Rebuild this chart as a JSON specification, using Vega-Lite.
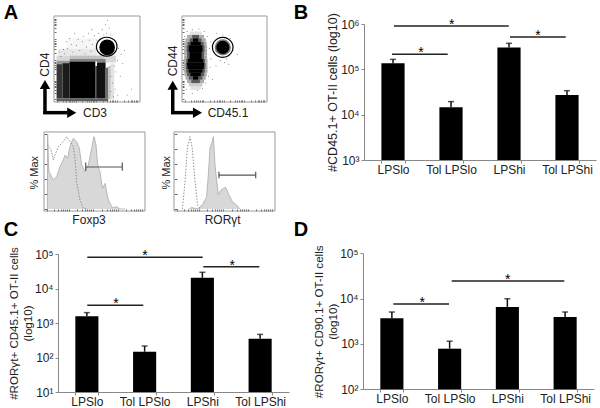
{"$schema":"https://vega.github.io/schema/vega-lite/v6.json","width":600,"height":408,"autosize":"none","padding":0,"background":"white",
"config":{"view":{"stroke":null},"font":"Liberation Sans","axis":{"grid":false,"domainColor":"#888","tickColor":"#888","tickSize":3,"labelColor":"#222","titleColor":"#222","labelFontSize":12,"titleFontSize":12,"titleFontWeight":"normal","labelFont":"Liberation Sans","titleFont":"Liberation Sans"},"text":{"font":"Liberation Sans"}},
"resolve":{"scale":{"x":"independent","y":"independent"}},
"layer":[
{"encoding":{"x":{"field":"x","type":"quantitative","axis":null,"scale":{"domain":[0,100],"range":[54,140],"nice":false,"zero":false}},"y":{"field":"y","type":"quantitative","axis":null,"scale":{"domain":[0,100],"range":[102,16],"nice":false,"zero":false}}},
"layer":[
{"data":{"values":[{"x":15,"x2":50,"y":62,"y2":74,"d":3},{"x":5,"x2":50,"y":54,"y2":62,"d":8},{"x":3,"x2":18,"y":48,"y2":54,"d":14},{"x":18,"x2":58,"y":50,"y2":54,"d":22},{"x":58,"x2":72,"y":46,"y2":54,"d":14},{"x":3,"x2":18,"y":44,"y2":48,"d":38},{"x":18,"x2":50,"y":47,"y2":50,"d":45},{"x":50,"x2":60,"y":46,"y2":50,"d":45},{"x":3,"x2":10,"y":4,"y2":44,"d":78},{"x":10,"x2":18,"y":4,"y2":45,"d":90},{"x":18,"x2":48,"y":4,"y2":47,"d":100},{"x":48,"x2":50,"y":4,"y2":42,"d":75},{"x":50,"x2":60,"y":4,"y2":46,"d":95},{"x":60,"x2":63,"y":4,"y2":40,"d":55},{"x":63,"x2":66,"y":3,"y2":42,"d":22},{"x":66,"x2":70,"y":3,"y2":45,"d":10},{"x":3,"x2":63,"y":1,"y2":4,"d":60}]},
"mark":{"type":"rect"},"encoding":{"x2":{"field":"x2"},"y2":{"field":"y2"},"color":{"field":"d","type":"quantitative","legend":null,"scale":{"domain":[0,100],"range":["#ffffff","#000000"]}}}},
{"data":{"values":[{"x":12,"y":56},{"x":16,"y":62},{"x":22,"y":58},{"x":26,"y":66},{"x":30,"y":60},{"x":33,"y":70},{"x":36,"y":56},{"x":38,"y":64},{"x":41,"y":72},{"x":43,"y":59},{"x":45,"y":67},{"x":47,"y":77},{"x":49,"y":62},{"x":34,"y":76},{"x":28,"y":73},{"x":20,"y":67},{"x":8,"y":53},{"x":11,"y":61},{"x":6,"y":58},{"x":52,"y":80},{"x":56,"y":84},{"x":60,"y":90},{"x":62,"y":95},{"x":61,"y":80},{"x":64,"y":86},{"x":58,"y":78},{"x":66,"y":78},{"x":72,"y":72},{"x":75,"y":62},{"x":78,"y":55},{"x":74,"y":48},{"x":70,"y":42},{"x":72,"y":35},{"x":66,"y":30},{"x":68,"y":22},{"x":71,"y":15},{"x":66,"y":12},{"x":74,"y":8},{"x":69,"y":6},{"x":77,"y":30},{"x":80,"y":45},{"x":18,"y":74},{"x":40,"y":80},{"x":44,"y":84},{"x":50,"y":72},{"x":24,"y":80},{"x":14,"y":70},{"x":82,"y":60},{"x":90,"y":15},{"x":85,"y":8}]},
"mark":{"type":"circle","size":0.7,"color":"#000","opacity":1}},
{"data":{"values":[{"x":61.8,"y":63.5}]},"mark":{"type":"circle","size":245,"color":"#000","opacity":1}},
{"data":{"values":[{"o":1,"x":73.3,"y":64.3},{"o":2,"x":71.7,"y":70},{"o":3,"x":67.3,"y":73.8},{"o":4,"x":61.3,"y":75.3},{"o":5,"x":55.3,"y":73.8},{"o":6,"x":50.9,"y":69.8},{"o":7,"x":49.3,"y":64.3},{"o":8,"x":50.9,"y":58.8},{"o":9,"x":55.3,"y":54.8},{"o":10,"x":61.3,"y":53.3},{"o":11,"x":67.3,"y":54.8},{"o":12,"x":71.7,"y":58.8}]},
"mark":{"type":"line","interpolate":"cardinal-closed","color":"#000","strokeWidth":1.2},"encoding":{"order":{"field":"o","type":"quantitative"}}},
{"data":{"values":[{"x":-10.5,"x2":-10.5,"y":-14,"y2":16},{"x":-12.5,"x2":16,"y":-12.4,"y2":-12.4}]},"mark":{"type":"rule","color":"#000","strokeWidth":3.5},"encoding":{"x2":{"field":"x2"},"y2":{"field":"y2"}}},
{"data":{"values":[{"x":-10.5,"y":20.3}]},"mark":{"type":"point","shape":"triangle-up","filled":true,"size":110,"color":"#000","opacity":1}},
{"data":{"values":[{"x":20.6,"y":-12.4}]},"mark":{"type":"point","shape":"triangle-right","filled":true,"size":110,"color":"#000","opacity":1}},
{"data":{"values":[{"x":47.7,"y":-13.1,"s":"CD3"}]},"mark":{"type":"text","fontSize":12,"color":"#222"},"encoding":{"text":{"field":"s"}}},
{"data":{"values":[{"x":-10.5,"y":43.4,"s":"CD4"}]},"mark":{"type":"text","fontSize":12,"color":"#222","angle":270},"encoding":{"text":{"field":"s"}}},
{"data":{"values":[{"x":-50,"y":103,"s":"A"}]},"mark":{"type":"text","fontSize":20,"fontWeight":"bold","color":"#000"},"encoding":{"text":{"field":"s"}}}
]},
{"data":{"values":[{"a":0,"b":100,"c":0,"d":100}]},"mark":{"type":"rect","fill":null,"stroke":"#999","strokeWidth":1},
"encoding":{"x":{"field":"a","type":"quantitative","title":null,"scale":{"domain":[0,100],"range":[54,140],"nice":false,"zero":false},"axis":{"orient":"bottom","offset":-306,"domain":false,"labels":false,"tickSize":-2,"tickColor":"#666","values":[3,10,14,17,19,21,23,25,33,38,41,43,45,47,49,57,62,65,67,69,71,73,81,86,89,91,93,95,97]}},"x2":{"field":"b"},"y":{"field":"c","type":"quantitative","title":null,"scale":{"domain":[0,100],"range":[102,16],"nice":false,"zero":false},"axis":{"orient":"left","offset":-54,"domain":false,"labels":false,"tickSize":-2,"tickColor":"#666","values":[3,10,14,17,19,21,23,25,33,38,41,43,45,47,49,57,62,65,67,69,71,73,81,86,89,91,93,95,97]}},"y2":{"field":"d"}}},
{"encoding":{"x":{"field":"x","type":"quantitative","axis":null,"scale":{"domain":[0,100],"range":[182,267],"nice":false,"zero":false}},"y":{"field":"y","type":"quantitative","axis":null,"scale":{"domain":[0,100],"range":[102,16],"nice":false,"zero":false}}},
"layer":[
{"data":{"values":[{"x":10,"x2":22,"y":14,"y2":18,"d":10},{"x":8,"x2":24,"y":18,"y2":22,"d":18},{"x":6,"x2":26,"y":22,"y2":26,"d":30},{"x":4,"x2":28,"y":26,"y2":30,"d":30},{"x":3,"x2":29,"y":30,"y2":34,"d":30},{"x":2,"x2":30,"y":34,"y2":38,"d":30},{"x":2,"x2":30,"y":38,"y2":42,"d":30},{"x":2,"x2":30,"y":42,"y2":46,"d":30},{"x":2,"x2":30,"y":46,"y2":50,"d":30},{"x":2.5,"x2":29.5,"y":50,"y2":54,"d":30},{"x":2.5,"x2":29.5,"y":54,"y2":58,"d":30},{"x":2.5,"x2":29.5,"y":58,"y2":62,"d":30},{"x":2.5,"x2":29.5,"y":62,"y2":66,"d":30},{"x":3,"x2":29,"y":66,"y2":70,"d":30},{"x":4,"x2":28,"y":70,"y2":74,"d":30},{"x":6,"x2":26,"y":74,"y2":78,"d":30},{"x":9,"x2":23,"y":78,"y2":82,"d":10},{"x":11,"x2":21,"y":22,"y2":26,"d":62},{"x":8,"x2":24,"y":26,"y2":30,"d":62},{"x":6,"x2":26,"y":30,"y2":34,"d":62},{"x":5,"x2":27,"y":34,"y2":38,"d":62},{"x":4.5,"x2":27.5,"y":38,"y2":46,"d":62},{"x":5,"x2":27,"y":46,"y2":50,"d":62},{"x":6,"x2":26,"y":50,"y2":58,"d":62},{"x":5.5,"x2":26.5,"y":58,"y2":66,"d":62},{"x":6.5,"x2":25.5,"y":66,"y2":70,"d":62},{"x":9,"x2":23,"y":70,"y2":74,"d":62},{"x":12,"x2":20,"y":74,"y2":78,"d":62},{"x":13,"x2":19,"y":26,"y2":30,"d":100},{"x":10,"x2":22,"y":30,"y2":34,"d":100},{"x":8,"x2":24,"y":34,"y2":38,"d":100},{"x":6.5,"x2":25.5,"y":38,"y2":42,"d":100},{"x":6,"x2":26,"y":42,"y2":46,"d":100},{"x":7,"x2":25,"y":46,"y2":50,"d":100},{"x":9,"x2":23,"y":50,"y2":58,"d":100},{"x":8,"x2":24,"y":58,"y2":66,"d":100},{"x":10,"x2":22,"y":66,"y2":70,"d":100},{"x":13,"x2":19,"y":70,"y2":74,"d":100}]},
"mark":{"type":"rect"},"encoding":{"x2":{"field":"x2"},"y2":{"field":"y2"},"color":{"field":"d","type":"quantitative","legend":null,"scale":{"domain":[0,100],"range":["#ffffff","#000000"]}}}},
{"data":{"values":[{"x":5,"y":15},{"x":12,"y":10},{"x":18,"y":13},{"x":24,"y":16},{"x":28,"y":22},{"x":31,"y":30},{"x":33,"y":40},{"x":34,"y":50},{"x":32,"y":62},{"x":34,"y":70},{"x":30,"y":76},{"x":26,"y":82},{"x":20,"y":85},{"x":12,"y":84},{"x":6,"y":82},{"x":3,"y":76},{"x":38,"y":58},{"x":40,"y":42},{"x":36,"y":26},{"x":42,"y":70},{"x":52,"y":50},{"x":50,"y":46},{"x":45,"y":48},{"x":60,"y":60},{"x":57,"y":74},{"x":48,"y":78},{"x":41,"y":80},{"x":55,"y":44},{"x":65,"y":55}]},
"mark":{"type":"circle","size":0.7,"color":"#000","opacity":1}},
{"data":{"values":[{"x":48,"y":63.5}]},"mark":{"type":"circle","size":260,"color":"#777","opacity":1}},
{"data":{"values":[{"x":48,"y":63.5}]},"mark":{"type":"circle","size":170,"color":"#000","opacity":1}},
{"data":{"values":[{"o":1,"x":60,"y":63.6},{"o":2,"x":58.4,"y":69.4},{"o":3,"x":54,"y":73.6},{"o":4,"x":47.9,"y":75.2},{"o":5,"x":41.8,"y":73.6},{"o":6,"x":37.4,"y":69.4},{"o":7,"x":35.8,"y":63.6},{"o":8,"x":37.4,"y":57.8},{"o":9,"x":41.8,"y":53.6},{"o":10,"x":47.9,"y":52},{"o":11,"x":54,"y":53.6},{"o":12,"x":58.4,"y":57.8}]},
"mark":{"type":"line","interpolate":"cardinal-closed","color":"#000","strokeWidth":1.2},"encoding":{"order":{"field":"o","type":"quantitative"}}},
{"data":{"values":[{"x":-10.9,"x2":-10.9,"y":-14,"y2":15},{"x":-12.9,"x2":14,"y":-12.4,"y2":-12.4}]},"mark":{"type":"rule","color":"#000","strokeWidth":3.5},"encoding":{"x2":{"field":"x2"},"y2":{"field":"y2"}}},
{"data":{"values":[{"x":-10.9,"y":19.4}]},"mark":{"type":"point","shape":"triangle-up","filled":true,"size":110,"color":"#000","opacity":1}},
{"data":{"values":[{"x":18.2,"y":-12.4}]},"mark":{"type":"point","shape":"triangle-right","filled":true,"size":110,"color":"#000","opacity":1}},
{"data":{"values":[{"x":54.1,"y":-12.8,"s":"CD45.1"}]},"mark":{"type":"text","fontSize":12,"color":"#222"},"encoding":{"text":{"field":"s"}}},
{"data":{"values":[{"x":-10.2,"y":47.7,"s":"CD44"}]},"mark":{"type":"text","fontSize":12,"color":"#222","angle":270},"encoding":{"text":{"field":"s"}}}
]},
{"data":{"values":[{"a":0,"b":100,"c":0,"d":100}]},"mark":{"type":"rect","fill":null,"stroke":"#999","strokeWidth":1},
"encoding":{"x":{"field":"a","type":"quantitative","title":null,"scale":{"domain":[0,100],"range":[182,267],"nice":false,"zero":false},"axis":{"orient":"bottom","offset":-306,"domain":false,"labels":false,"tickSize":-2,"tickColor":"#666","values":[3,10,14,17,19,21,23,25,33,38,41,43,45,47,49,57,62,65,67,69,71,73,81,86,89,91,93,95,97]}},"x2":{"field":"b"},"y":{"field":"c","type":"quantitative","title":null,"scale":{"domain":[0,100],"range":[102,16],"nice":false,"zero":false},"axis":{"orient":"left","offset":-182,"domain":false,"labels":false,"tickSize":-2,"tickColor":"#666","values":[3,10,14,17,19,21,23,25,33,38,41,43,45,47,49,57,62,65,67,69,71,73,81,86,89,91,93,95,97]}},"y2":{"field":"d"}}},
{"encoding":{"x":{"field":"x","type":"quantitative","axis":null,"scale":{"domain":[0,100],"range":[44,145],"nice":false,"zero":false}},"y":{"field":"y","type":"quantitative","axis":null,"scale":{"domain":[0,100],"range":[209,134],"nice":false,"zero":false}}},
"layer":[
{"data":{"values":[{"x":3.4,"y":0},{"x":3.6,"y":100},{"x":4.3,"y":67.6},{"x":4.9,"y":49.8},{"x":9.2,"y":38.7},{"x":12.5,"y":43.1},{"x":15.8,"y":56.4},{"x":19.1,"y":65.3},{"x":20.8,"y":72},{"x":23.4,"y":67.6},{"x":25.7,"y":83.1},{"x":29,"y":94.2},{"x":32.3,"y":89.8},{"x":35,"y":80.9},{"x":37.3,"y":58.7},{"x":40.6,"y":49.8},{"x":43.9,"y":58.7},{"x":47.2,"y":80.9},{"x":49.5,"y":96.4},{"x":51.5,"y":85.3},{"x":53.1,"y":58.7},{"x":55.4,"y":49.8},{"x":57.8,"y":27.6},{"x":60.4,"y":34.2},{"x":63.7,"y":12},{"x":67.7,"y":1.8},{"x":72,"y":3},{"x":75.3,"y":0},{"x":80.2,"y":0}]},
"mark":{"type":"area","color":"#c8c8c8","line":{"color":"#aaa","strokeWidth":0.8}},"encoding":{"y":{"field":"y","type":"quantitative","stack":null}}},
{"data":{"values":[{"x":3.6,"y":85.3},{"x":7,"y":78.7},{"x":9.2,"y":65.3},{"x":10.9,"y":72},{"x":14.2,"y":83.1},{"x":19.1,"y":89.8},{"x":22.4,"y":96.4},{"x":25.7,"y":89.8},{"x":29,"y":83.1},{"x":30.7,"y":67.6},{"x":32.3,"y":36.4},{"x":35.6,"y":12},{"x":38.9,"y":0.9},{"x":42.2,"y":0}]},
"mark":{"type":"line","color":"#777","strokeWidth":0.8,"strokeDash":[1.5,1.5]}},
{"data":{"values":[{"x":41.3,"x2":77.5,"y":56,"y2":56},{"x":41.3,"x2":41.3,"y":51,"y2":62},{"x":77.5,"x2":77.5,"y":51,"y2":62}]},"mark":{"type":"rule","color":"#555","strokeWidth":1.2},"encoding":{"x2":{"field":"x2"},"y2":{"field":"y2"}}},
{"data":{"values":[{"x":44.6,"y":-14.7,"s":"Foxp3"}]},"mark":{"type":"text","fontSize":12,"color":"#222"},"encoding":{"text":{"field":"s"}}},
{"data":{"values":[{"x":-8.9,"y":48.4,"s":"% Max"}]},"mark":{"type":"text","fontSize":11,"color":"#222","angle":270},"encoding":{"text":{"field":"s"}}}
]},
{"data":{"values":[{"a":0,"b":100,"c":-2.7,"d":102.7}]},"mark":{"type":"rect","fill":null,"stroke":"#999","strokeWidth":1},
"encoding":{"x":{"field":"a","type":"quantitative","title":null,"scale":{"domain":[0,100],"range":[44,145],"nice":false,"zero":false},"axis":{"orient":"bottom","offset":-197,"domain":false,"labels":false,"tickSize":-2,"tickColor":"#555","values":[3,10,14,17,19,21,23,25,33,38,41,43,45,47,49,57,62,65,67,69,71,73,81,86,89,91,93,95,97]}},"x2":{"field":"b"},"y":{"field":"c","type":"quantitative","title":null,"scale":{"domain":[0,100],"range":[209,134],"nice":false,"zero":false},"axis":{"orient":"left","offset":-44,"domain":false,"labels":false,"tickSize":-3,"tickColor":"#666","values":[0,20,40,60,80,100]}},"y2":{"field":"d"}}},
{"encoding":{"x":{"field":"x","type":"quantitative","axis":null,"scale":{"domain":[0,100],"range":[174,275],"nice":false,"zero":false}},"y":{"field":"y","type":"quantitative","axis":null,"scale":{"domain":[0,100],"range":[209,134],"nice":false,"zero":false}}},
"layer":[
{"data":{"values":[{"x":15,"y":0},{"x":17.5,"y":2},{"x":20.1,"y":1},{"x":24.1,"y":0},{"x":29,"y":7.6},{"x":32.3,"y":16.4},{"x":34,"y":45.3},{"x":35.6,"y":80.9},{"x":37.3,"y":87.6},{"x":39,"y":96.4},{"x":40.6,"y":58.7},{"x":42.2,"y":38.7},{"x":43.9,"y":18.7},{"x":46.5,"y":25.3},{"x":48.8,"y":27.6},{"x":51.1,"y":28.9},{"x":53.8,"y":20.9},{"x":57.8,"y":9.8},{"x":62,"y":5.3},{"x":65.3,"y":0}]},
"mark":{"type":"area","color":"#c8c8c8","line":{"color":"#aaa","strokeWidth":0.8}},"encoding":{"y":{"field":"y","type":"quantitative","stack":null}}},
{"data":{"values":[{"x":8.3,"y":0},{"x":10.9,"y":36.4},{"x":13.2,"y":80.9},{"x":15.8,"y":96.4},{"x":18.1,"y":80.9},{"x":20.8,"y":36.4},{"x":23.4,"y":5.3},{"x":25.7,"y":0}]},
"mark":{"type":"line","color":"#777","strokeWidth":0.8,"strokeDash":[1.5,1.5]}},
{"data":{"values":[{"x":44.5,"x2":80.9,"y":45.3,"y2":45.3},{"x":44.5,"x2":44.5,"y":40.9,"y2":49.8},{"x":80.9,"x2":80.9,"y":40.9,"y2":49.8}]},"mark":{"type":"rule","color":"#555","strokeWidth":1.2},"encoding":{"x2":{"field":"x2"},"y2":{"field":"y2"}}},
{"data":{"values":[{"x":48.2,"y":-14.7,"s":"RORγt"}]},"mark":{"type":"text","fontSize":12,"color":"#222"},"encoding":{"text":{"field":"s"}}},
{"data":{"values":[{"x":-6.6,"y":48.4,"s":"% Max"}]},"mark":{"type":"text","fontSize":11,"color":"#222","angle":270},"encoding":{"text":{"field":"s"}}}
]},
{"data":{"values":[{"a":0,"b":100,"c":-2.7,"d":102.7}]},"mark":{"type":"rect","fill":null,"stroke":"#999","strokeWidth":1},
"encoding":{"x":{"field":"a","type":"quantitative","title":null,"scale":{"domain":[0,100],"range":[174,275],"nice":false,"zero":false},"axis":{"orient":"bottom","offset":-197,"domain":false,"labels":false,"tickSize":-2,"tickColor":"#555","values":[3,10,14,17,19,21,23,25,33,38,41,43,45,47,49,57,62,65,67,69,71,73,81,86,89,91,93,95,97]}},"x2":{"field":"b"},"y":{"field":"c","type":"quantitative","title":null,"scale":{"domain":[0,100],"range":[209,134],"nice":false,"zero":false},"axis":{"orient":"left","offset":-174,"domain":false,"labels":false,"tickSize":-3,"tickColor":"#666","values":[0,20,40,60,80,100]}},"y2":{"field":"d"}}},
{"data":{"values":[{"g":"LPSlo","v":136000,"e":166000},{"g":"Tol LPSlo","v":14500,"e":19400},{"g":"LPShi","v":305000,"e":375000},{"g":"Tol LPShi","v":27200,"e":33800}]},
"encoding":{"x":{"field":"g","type":"nominal","sort":null,"title":null,"scale":{"type":"band","range":[364,596],"paddingInner":0.6,"paddingOuter":0.3},"axis":{"orient":"bottom","offset":-248,"labelAngle":0,"tickBand":"extent","labelPadding":1}},"y":{"field":"v","type":"quantitative","title":"#CD45.1+ OT-II cells (log10)","scale":{"type":"log","domain":[1000,1000000],"range":[160,24],"nice":false},"axis":{"orient":"left","offset":-364,"values":[1000,10000,100000,1000000],"labelExpr":"datum.value==1000?'10³':datum.value==10000?'10⁴':datum.value==100000?'10⁵':'10⁶'","titlePadding":1,"titleFontSize":12.5}}},
"layer":[{"mark":{"type":"bar","color":"#000"},"encoding":{"y2":{"datum":1000}}},{"mark":{"type":"rule","color":"#111","strokeWidth":1.5},"encoding":{"y2":{"field":"e"}}}]},
{"data":{"values":[{"g":"LPSlo","e":166000},{"g":"Tol LPSlo","e":19400},{"g":"LPShi","e":375000},{"g":"Tol LPShi","e":33800}]},"mark":{"type":"tick","size":6,"thickness":1.5,"color":"#111"},
"encoding":{"x":{"field":"g","type":"nominal","sort":null,"axis":null,"scale":{"type":"band","range":[364,596],"paddingInner":0.6,"paddingOuter":0.3}},"y":{"field":"e","type":"quantitative","axis":null,"scale":{"type":"log","domain":[1000,1000000],"range":[160,24],"nice":false}}}},
{"encoding":{"x":{"field":"x","type":"quantitative","axis":null,"scale":{"domain":[0,4],"range":[364,596],"nice":false,"zero":false}},"y":{"field":"y","type":"quantitative","axis":null,"scale":{"type":"log","domain":[1000,1000000],"range":[160,24],"nice":false}}},
"layer":[
{"data":{"values":[{"x":0.517,"x2":2.495,"y":903000},{"x":0.483,"x2":1.443,"y":215000},{"x":2.517,"x2":3.478,"y":517000}]},"mark":{"type":"rule","color":"#222","strokeWidth":1.4},"encoding":{"x2":{"field":"x2"}}},
{"data":{"values":[{"x":1.512,"y":903000,"s":"*"},{"x":0.983,"y":215000,"s":"*"},{"x":3,"y":517000,"s":"*"}]},"mark":{"type":"text","fontSize":14,"color":"#000","baseline":"middle","dy":-1},"encoding":{"text":{"field":"s"}}},
{"data":{"values":[{"x":-1.086,"y":1770000,"s":"B"}]},"mark":{"type":"text","fontSize":20,"fontWeight":"bold","color":"#000"},"encoding":{"text":{"field":"s"}}}
]},
{"data":{"values":[{"g":"LPSlo","v":1560,"e":2000},{"g":"Tol LPSlo","v":147,"e":215},{"g":"LPShi","v":20500,"e":29500},{"g":"Tol LPShi","v":351,"e":468}]},
"encoding":{"x":{"field":"g","type":"nominal","sort":null,"title":null,"scale":{"type":"band","range":[58,289],"paddingInner":0.6,"paddingOuter":0.3},"axis":{"orient":"bottom","offset":-16,"labelAngle":0,"tickBand":"extent","labelPadding":1}},"y":{"field":"v","type":"quantitative","title":["#RORγt+ CD45.1+ OT-II cells","(log10)"],"scale":{"type":"log","domain":[10,100000],"range":[392,254],"nice":false},"axis":{"orient":"left","offset":-58,"values":[10,100,1000,10000,100000],"labelExpr":"datum.value==10?'10¹':datum.value==100?'10²':datum.value==1000?'10³':datum.value==10000?'10⁴':'10⁵'","titlePadding":1,"titleFontSize":11.6}}},
"layer":[{"mark":{"type":"bar","color":"#000"},"encoding":{"y2":{"datum":10}}},{"mark":{"type":"rule","color":"#111","strokeWidth":1.5},"encoding":{"y2":{"field":"e"}}}]},
{"data":{"values":[{"g":"LPSlo","e":2000},{"g":"Tol LPSlo","e":215},{"g":"LPShi","e":29500},{"g":"Tol LPShi","e":468}]},"mark":{"type":"tick","size":6,"thickness":1.5,"color":"#111"},
"encoding":{"x":{"field":"g","type":"nominal","sort":null,"axis":null,"scale":{"type":"band","range":[58,289],"paddingInner":0.6,"paddingOuter":0.3}},"y":{"field":"e","type":"quantitative","axis":null,"scale":{"type":"log","domain":[10,100000],"range":[392,254],"nice":false}}}},
{"encoding":{"x":{"field":"x","type":"quantitative","axis":null,"scale":{"domain":[0,4],"range":[58,289],"nice":false,"zero":false}},"y":{"field":"y","type":"quantitative","axis":null,"scale":{"type":"log","domain":[10,100000],"range":[392,254],"nice":false}}},
"layer":[
{"data":{"values":[{"x":0.507,"x2":2.506,"y":80200},{"x":2.516,"x2":3.486,"y":42800},{"x":0.507,"x2":1.477,"y":3260}]},"mark":{"type":"rule","color":"#222","strokeWidth":1.4},"encoding":{"x2":{"field":"x2"}}},
{"data":{"values":[{"x":1.506,"y":80200,"s":"*"},{"x":3.018,"y":42800,"s":"*"},{"x":1.004,"y":3260,"s":"*"}]},"mark":{"type":"text","fontSize":14,"color":"#000","baseline":"middle","dy":-1},"encoding":{"text":{"field":"s"}}},
{"data":{"values":[{"x":-0.814,"y":497000,"s":"C"}]},"mark":{"type":"text","fontSize":20,"fontWeight":"bold","color":"#000"},"encoding":{"text":{"field":"s"}}}
]},
{"data":{"values":[{"g":"LPSlo","v":3680,"e":5070},{"g":"Tol LPSlo","v":787,"e":1150},{"g":"LPShi","v":6550,"e":9950},{"g":"Tol LPShi","v":3940,"e":5070}]},
"encoding":{"x":{"field":"g","type":"nominal","sort":null,"title":null,"scale":{"type":"band","range":[363,594],"paddingInner":0.6,"paddingOuter":0.3},"axis":{"orient":"bottom","offset":-19,"labelAngle":0,"tickBand":"extent","labelPadding":1}},"y":{"field":"v","type":"quantitative","title":["#RORγt+ CD90.1+ OT-II cells","(log10)"],"scale":{"type":"log","domain":[100,100000],"range":[389.3,253.3],"nice":false},"axis":{"orient":"left","offset":-363,"values":[100,1000,10000,100000],"labelExpr":"datum.value==100?'10²':datum.value==1000?'10³':datum.value==10000?'10⁴':'10⁵'","titlePadding":1,"titleFontSize":11.6}}},
"layer":[{"mark":{"type":"bar","color":"#000"},"encoding":{"y2":{"datum":100}}},{"mark":{"type":"rule","color":"#111","strokeWidth":1.5},"encoding":{"y2":{"field":"e"}}}]},
{"data":{"values":[{"g":"LPSlo","e":5070},{"g":"Tol LPSlo","e":1150},{"g":"LPShi","e":9950},{"g":"Tol LPShi","e":5070}]},"mark":{"type":"tick","size":6,"thickness":1.5,"color":"#111"},
"encoding":{"x":{"field":"g","type":"nominal","sort":null,"axis":null,"scale":{"type":"band","range":[363,594],"paddingInner":0.6,"paddingOuter":0.3}},"y":{"field":"e","type":"quantitative","axis":null,"scale":{"type":"log","domain":[100,100000],"range":[389.3,253.3],"nice":false}}}},
{"encoding":{"x":{"field":"x","type":"quantitative","axis":null,"scale":{"domain":[0,4],"range":[363,594],"nice":false,"zero":false}},"y":{"field":"y","type":"quantitative","axis":null,"scale":{"type":"log","domain":[100,100000],"range":[389.3,253.3],"nice":false}}},
"layer":[
{"data":{"values":[{"x":0.525,"x2":1.489,"y":7620},{"x":1.536,"x2":3.486,"y":24500}]},"mark":{"type":"rule","color":"#222","strokeWidth":1.4},"encoding":{"x2":{"field":"x2"}}},
{"data":{"values":[{"x":1.027,"y":7620,"s":"*"},{"x":2.505,"y":24500,"s":"*"}]},"mark":{"type":"text","fontSize":14,"color":"#000","baseline":"middle","dy":-1},"encoding":{"text":{"field":"s"}}},
{"data":{"values":[{"x":-1.074,"y":327000,"s":"D"}]},"mark":{"type":"text","fontSize":20,"fontWeight":"bold","color":"#000"},"encoding":{"text":{"field":"s"}}}
]}
]}
